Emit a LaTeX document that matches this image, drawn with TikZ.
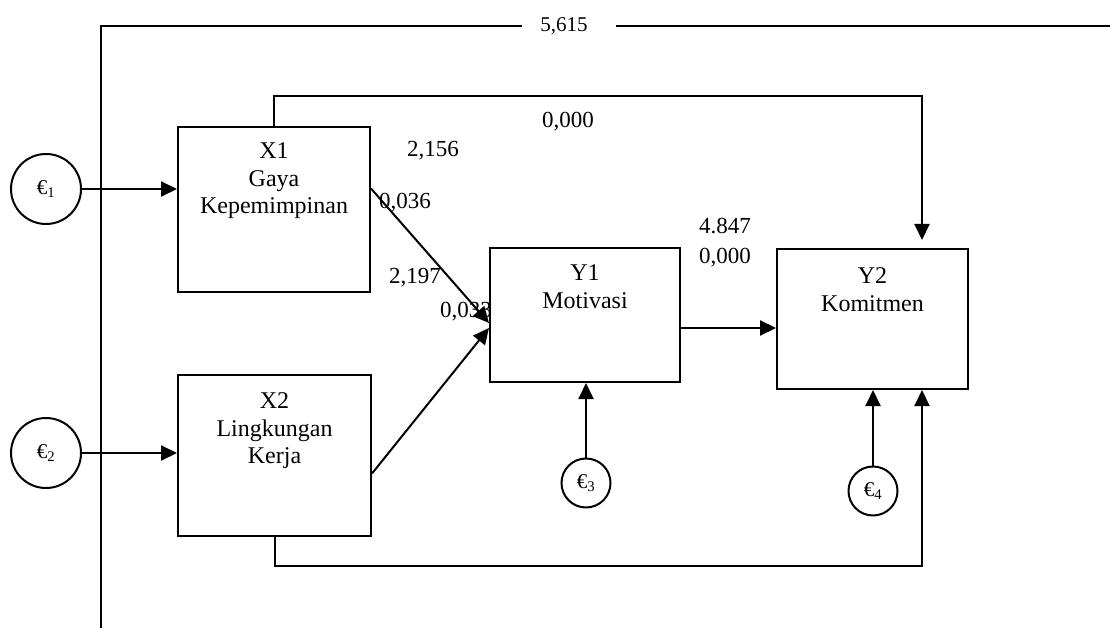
\documentclass[tikz,border=0pt]{standalone}
\usepackage{fontspec}
\setmainfont{Liberation Serif}
\usetikzlibrary{arrows.meta}

\begin{document}
\begin{tikzpicture}[x=1pt, y=-1pt, >={Triangle[length=16pt,width=15pt]}, line width=2pt,
    var/.style={draw, rectangle, fill=white, inner sep=0pt},
    vartext/.style={anchor=north, align=center, inner sep=0pt, font=\fontsize{24}{27.5}\selectfont},
    err/.style={draw, circle, fill=white, inner sep=0pt, font=\fontsize{21}{24}\selectfont},
    coef/.style={inner sep=0pt, font=\fontsize{23}{27}\selectfont}]
    \useasboundingbox (0,0) rectangle (1110,628);

    % Coefficients (placed first, the boxes cover them)
    \node[coef] (c1) at (433,151) {2,156};
    \node[coef] (c2) at (405,203) {0,036};
    \node[coef] (c3) at (415,278) {2,197};
    \node[coef] (c4) at (466,312) {0,033};
    \node[coef] (c5) at (568,122) {0,000};
    \node[coef] (c6) at (725,226) {4.847};
    \node[coef] (c7) at (725,258) {0,000};
    \node[coef, font=\fontsize{21}{25}\selectfont] (c8) at (564,26) {5,615};

    % Variables
    \node[var, minimum width=192pt, minimum height=165pt] (X1) at (274,209.5) {};
    \node[var, minimum width=193pt, minimum height=161pt] (X2) at (274.5,455.5) {};
    \node[var, minimum width=190pt, minimum height=134pt] (Y1) at (585,315) {};
    \node[var, minimum width=191pt, minimum height=140pt] (Y2) at (872.5,319) {};
    \node[vartext] (tX1) at ([yshift=-16pt]X1.north) {X1\\Gaya\\Kepemimpinan};
    \node[vartext] (tX2) at ([yshift=-18pt]X2.north) {X2\\Lingkungan\\Kerja};
    \node[vartext] (tY1) at ([yshift=-17pt]Y1.north) {Y1\\Motivasi};
    \node[vartext] (tY2) at ([yshift=-19pt]Y2.north) {Y2\\Komitmen};

    % Error terms
    \node[err, minimum size=70pt] (e1) at (46,189) {€\textsubscript{1}};
    \node[err, minimum size=70pt] (e2) at (46,453) {€\textsubscript{2}};
    \node[err, minimum size=49pt] (e3) at (586,483) {€\textsubscript{3}};
    \node[err, minimum size=49pt] (e4) at (873,491) {€\textsubscript{4}};

    % Corners
    \coordinate (topR) at (922,96);
    \coordinate (botR) at (922,566);
    \coordinate (outB) at (101,628);
    \coordinate (outC) at (101,26);
    \coordinate (gapL) at (522,26);
    \coordinate (gapR) at (616,26);
    \coordinate (outE) at (1110,26);

    % Paths
    \draw[->] (e1) -- (e1 -| X1.west);
    \draw[->] (e2) -- (e2 -| X2.west);
    \draw[->] ([yshift=21pt]X1.east) -- ([yshift=-8pt]Y1.west);
    \draw[->] ([yshift=-18pt]X2.east) -- ([yshift=-13pt]Y1.west);
    \draw[->] ([yshift=-13pt]Y1.east) -- ([yshift=-13pt]Y1.east -| Y2.west);
    \draw[->] (e3) -- (e3 |- Y1.south);
    \draw[->] (e4) -- (e4 |- Y2.south);
    \draw[->, shorten >=8pt] (X1.north) |- (topR) -- (topR |- Y2.north);
    \draw[->] (X2.south) |- (botR) -- (botR |- Y2.south);

    % Outer line
    \draw (outB) -- (outC) -- (gapL);
    \draw (gapR) -- (outE);
\end{tikzpicture}
\end{document}
